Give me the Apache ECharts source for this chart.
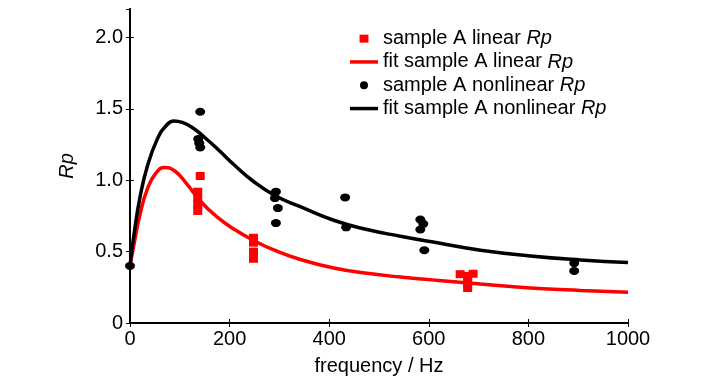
<!DOCTYPE html>
<html><head><meta charset="utf-8">
<script src="https://cdn.jsdelivr.net/npm/echarts@6/dist/echarts.min.js"></script>
<style>html,body{margin:0;padding:0;background:#fff}#c{width:727px;height:381px}</style>
</head><body><div id="c"></div>
<script>
const FONT = "'Liberation Sans Narrow','Arial Narrow','Liberation Sans',Arial,sans-serif";
const FS = 20;
const seriesNames = ['sample A linear Rp','fit sample A linear Rp','sample A nonlinear Rp','fit sample A nonlinear Rp'];
const xTicks = [0,200,400,600,800,1000];
const yTicks = [0,0.5,1.0,1.5,2.0];

const linearFreq = [136,136,136,136,141, 248,248,248,248, 663,689,678,678,678,678];
const linearRp   = [0.92,0.875,0.83,0.785,1.03, 0.597,0.563,0.50,0.45, 0.342,0.345,0.33,0.30,0.27,0.245];

const nonlinearFreq = [0, 141,137,139,141, 293,291,297,293, 432,434, 583,589,583,591, 892,892];
const nonlinearRp   = [0.40, 1.48,1.29,1.26,1.23, 0.92,0.875,0.805,0.70, 0.88,0.67, 0.725,0.695,0.655,0.51, 0.42,0.365];

const fitLinFreq = [0,8,20,35,52,70,90,114,141,174,210,250,290,342,409,476,543,620,704,804,905,1000];
const fitLinRp   = [0.40,0.55,0.76,0.94,1.05,1.09,1.065,0.975,0.855,0.745,0.655,0.575,0.51,0.445,0.385,0.348,0.322,0.298,0.273,0.246,0.228,0.215];

const fitNonFreq = [0,8,20,35,55,72,88,105,125,150,180,210,245,290,342,409,476,543,620,704,804,905,1000];
const fitNonRp   = [0.40,0.62,0.88,1.10,1.29,1.38,1.415,1.405,1.37,1.30,1.205,1.105,1.00,0.895,0.815,0.72,0.655,0.608,0.56,0.51,0.47,0.442,0.424];

const pairs = (xs, ys) => xs.map((x, i) => [x, ys[i]]);

const chart = echarts.init(document.getElementById('c'), null, {renderer: 'canvas'});
const axisBase = {
  type: 'value',
  axisLine: {show: true, lineStyle: {color: '#000', width: 2}},
  axisTick: {show: true, inside: true, length: 4, lineStyle: {color: '#000', width: 1}},
  splitLine: {show: false}
};
const legendFmt = name => '{n|' + name.replace(/ Rp$/, ' ') + '}{i|Rp}';
chart.setOption({
  animation: false,
  backgroundColor: '#fff',
  textStyle: {fontFamily: FONT},
  grid: {left: 130, right: 99, top: 9, bottom: 55, containLabel: false},
  legend: {
    orient: 'vertical', left: 345, top: 22, itemGap: 0,
    itemWidth: 28, itemHeight: 8,
    formatter: legendFmt,
    textStyle: {fontFamily: FONT, fontSize: FS, color: '#000', lineHeight: 23.3,
      rich: {n: {fontFamily: FONT, fontSize: FS, color: '#000', lineHeight: 23.3},
             i: {fontFamily: FONT, fontSize: FS, color: '#000', fontStyle: 'italic', lineHeight: 23.3}}},
    data: [
      {name: seriesNames[0], icon: 'path://M0,0h10v9h-10z'},
      {name: seriesNames[1], icon: 'path://M0,0h28v3.5h-28z'},
      {name: seriesNames[2], icon: 'circle'},
      {name: seriesNames[3], icon: 'path://M0,0h28v3.5h-28z'}
    ]
  },
  xAxis: [
    Object.assign({}, axisBase, {
      min: xTicks[0], max: xTicks[xTicks.length - 1], interval: xTicks[1] - xTicks[0],
      name: 'frequency / Hz', nameLocation: 'middle', nameGap: 33,
      nameTextStyle: {fontFamily: FONT, fontSize: FS, color: '#000'},
      axisLabel: {fontFamily: FONT, fontSize: FS, color: '#000', margin: 6, formatter: v => String(v)}
    }),
    Object.assign({}, axisBase, {
      position: 'top', min: xTicks[0], max: xTicks[xTicks.length - 1], interval: xTicks[1] - xTicks[0],
      axisLabel: {show: false}
    })
  ],
  yAxis: [
    Object.assign({}, axisBase, {
      min: 0, max: 2.2, interval: yTicks[1] - yTicks[0],
      name: 'Rp', nameLocation: 'middle', nameGap: 53,
      nameTextStyle: {fontFamily: FONT, fontSize: FS, color: '#000', fontStyle: 'italic'},
      axisLabel: {fontFamily: FONT, fontSize: FS, color: '#000', margin: 7, showMaxLabel: false,
        padding: [6, 0, 0, 0],
        formatter: v => (v === 0 ? '0' : v.toFixed(1))}
    }),
    Object.assign({}, axisBase, {
      position: 'right', min: 0, max: 2.2, interval: yTicks[1] - yTicks[0],
      axisLabel: {show: false}
    })
  ],
  series: [
    {name: seriesNames[1], type: 'line', data: pairs(fitLinFreq, fitLinRp), showSymbol: false, symbol: 'none',
      smooth: 0.5, lineStyle: {color: '#ff0000', width: 3.5}, itemStyle: {color: '#ff0000'}, z: 2},
    {name: seriesNames[3], type: 'line', data: pairs(fitNonFreq, fitNonRp), showSymbol: false, symbol: 'none',
      smooth: 0.5, lineStyle: {color: '#000', width: 3.5}, itemStyle: {color: '#000'}, z: 2},
    {name: seriesNames[0], type: 'scatter', data: pairs(linearFreq, linearRp), symbol: 'rect', symbolSize: [9, 8],
      itemStyle: {color: '#ff0000', opacity: 1}, z: 3},
    {name: seriesNames[2], type: 'scatter', data: pairs(nonlinearFreq, nonlinearRp), symbol: 'circle', symbolSize: [10, 8],
      itemStyle: {color: '#000', opacity: 1}, z: 4}
  ]
});
</script></body></html>
